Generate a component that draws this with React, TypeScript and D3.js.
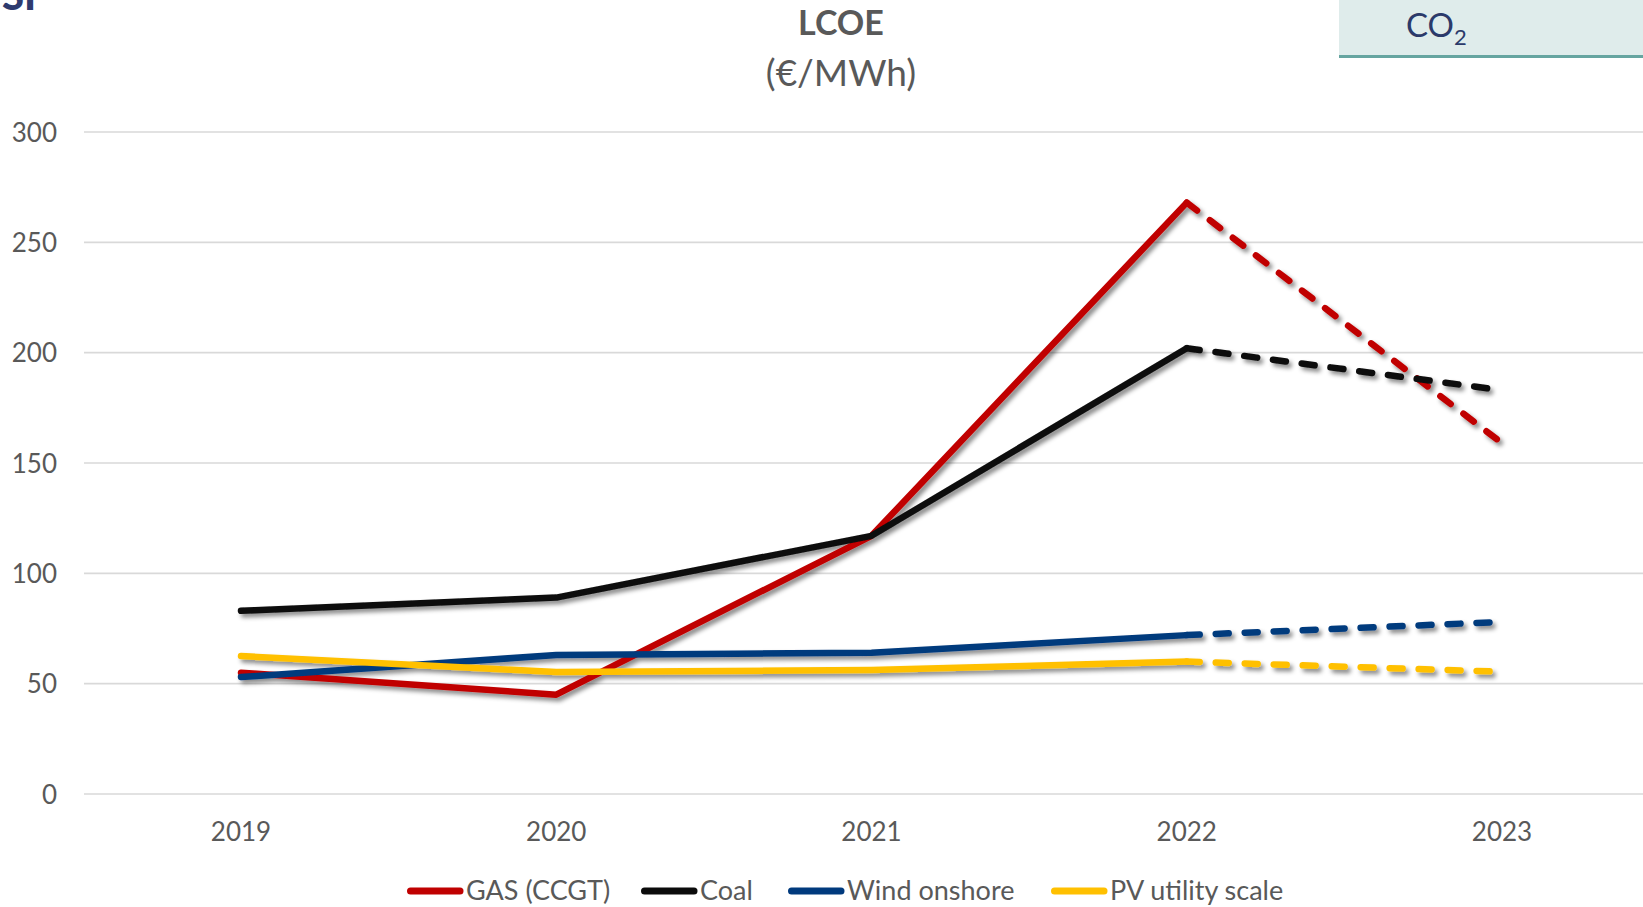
import React from "react";
import * as d3 from "d3";

const years = ["2019", "2020", "2021", "2022", "2023"];
const gasValues = [55, 45, 117, 268, 159];
const coalValues = [83, 89, 117, 202, 183];
const windValues = [53, 63, 64, 72, 78];
const pvValues = [62.5, 55.3, 56.2, 60, 55.4];
const seriesNames = ["GAS (CCGT)", "Coal", "Wind onshore", "PV utility scale"];
const yTicks = [0, 50, 100, 150, 200, 250, 300];
const solidUntil = "2022";

const W = 1643;
const H = 907;
const FONT = "Lato, 'Noto Sans', sans-serif";
const TXT = "#595959";

export default function App() {
  const x = d3.scalePoint<string>().domain(years).range([241, 1502]);
  const y = d3.scaleLinear().domain([0, 300]).range([794, 132]);

  const series = [
    { name: seriesNames[0], values: gasValues, color: "#C00000" },
    { name: seriesNames[1], values: coalValues, color: "#0B0B0B" },
    { name: seriesNames[2], values: windValues, color: "#003A7D" },
    { name: seriesNames[3], values: pvValues, color: "#FFC000" },
  ];

  const line = d3
    .line<[string, number]>()
    .x((d) => x(d[0]) as number)
    .y((d) => y(d[1]));

  const cut = years.indexOf(solidUntil);
  const legendX = [407, 641, 788, 1051];

  return (
    <svg
      width={W}
      height={H}
      style={{ position: "fixed", left: 0, top: 0, background: "#fff" }}
      fontFamily={FONT}
    >
      <defs>
        <filter id="shadow" x="-10%" y="-10%" width="120%" height="130%">
          <feDropShadow dx="3" dy="3.5" stdDeviation="2.2" floodColor="#000" floodOpacity="0.45" />
        </filter>
      </defs>
      <rect width={W} height={H} fill="#fff" />

      {/* top-left text, cropped by the top edge as in the source */}
      <text x={2} y={10} fontSize={40} fontWeight={900} fill="#2E3A6E">
        SP
      </text>

      {/* CO2 box */}
      <rect x={1339} y={0} width={W - 1339} height={56} fill="#DFECEB" />
      <rect x={1339} y={55} width={W - 1339} height={3} fill="#66A5A0" />
      <text x={1406} y={37} fontSize={33} fill="#2B3A6A">
        CO
        <tspan fontSize={22} dy={8}>
          2
        </tspan>
      </text>

      {/* Title */}
      <text x={841} y={35} textAnchor="middle" fontSize={34} fontWeight={700} fill={TXT}>
        LCOE
      </text>
      <text x={841} y={86} textAnchor="middle" fontSize={37} fill={TXT}>
        (€/MWh)
      </text>

      {/* grid */}
      {yTicks.map((t) => (
        <g key={t}>
          <line x1={84} x2={W} y1={y(t)} y2={y(t)} stroke="#D9D9D9" strokeWidth={1.6} />
          <text x={57} y={y(t) + 9.5} textAnchor="end" fontSize={26} fill={TXT}>
            {t}
          </text>
        </g>
      ))}

      {/* x labels */}
      {years.map((yr) => (
        <text key={yr} x={x(yr)} y={841} textAnchor="middle" fontSize={26} fill={TXT}>
          {yr}
        </text>
      ))}

      {/* series */}
      <g filter="url(#shadow)">
        {series.map((s) => {
          const pts = years.map((yr, i) => [yr, s.values[i]] as [string, number]);
          return (
            <g key={s.name}>
              <path
                d={line(pts.slice(0, cut + 1)) || ""}
                fill="none"
                stroke={s.color}
                strokeWidth={6.5}
                strokeLinejoin="round"
                strokeLinecap="round"
              />
              <path
                d={line(pts.slice(cut)) || ""}
                fill="none"
                stroke={s.color}
                strokeWidth={6.5}
                strokeLinecap="round"
                strokeDasharray="13 16"
              />
            </g>
          );
        })}
      </g>

      {/* legend */}
      {series.map((s, i) => (
        <g key={s.name}>
          <line
            x1={legendX[i] + 3.5}
            x2={legendX[i] + 53}
            y1={891}
            y2={891}
            stroke={s.color}
            strokeWidth={7}
            strokeLinecap="round"
          />
          <text x={legendX[i] + 59} y={900} fontSize={27} fill={TXT}>
            {s.name}
          </text>
        </g>
      ))}
    </svg>
  );
}
